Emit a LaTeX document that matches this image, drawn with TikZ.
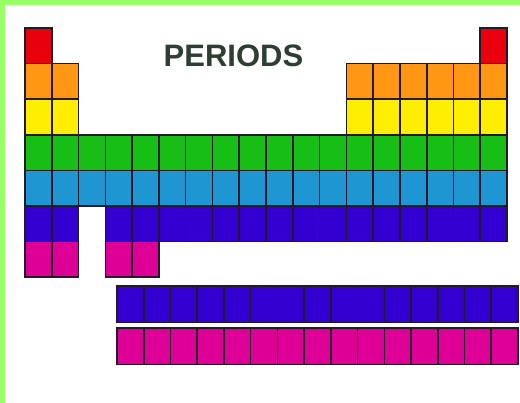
\documentclass[tikz,border=0pt]{standalone}
\usepackage{fontspec}
\setmainfont{Liberation Sans}
\definecolor{FrameGreen}{RGB}{153, 255, 102}
\definecolor{TitleInk}{RGB}{45, 62, 50}
\definecolor{CellEdge}{RGB}{35, 25, 40}
\definecolor{PerRed}{RGB}{232, 0, 12}
\definecolor{PerOrange}{RGB}{255, 150, 20}
\definecolor{PerYellow}{RGB}{255, 238, 0}
\definecolor{PerGreen}{RGB}{22, 190, 22}
\definecolor{PerBlue}{RGB}{30, 150, 210}
\definecolor{PerIndigo}{RGB}{52, 0, 210}
\definecolor{PerMagenta}{RGB}{222, 0, 150}
\usetikzlibrary{positioning}
\tikzset{
  cell/.style={rectangle, draw=CellEdge, fill=#1, line width=1.6pt,
               minimum width=26.78pt, minimum height=35.6pt,
               inner sep=0pt, outer sep=0pt, anchor=north west},
  lcell/.style={cell=#1, minimum width=26.73pt, minimum height=36.5pt},
  heading/.style={font=\fontsize{31}{31}\selectfont\bfseries, text=TitleInk,
                  inner sep=0pt, anchor=base},
}
\begin{document}
\begin{tikzpicture}[x=1pt, y=-1pt]
  \fill[white] (0,0) rectangle (520,403);
  \useasboundingbox (0,0) rectangle (520,403);
  \fill[FrameGreen] (0,0) rectangle (520,5);
  \fill[FrameGreen] (0,0) rectangle (5,403);

  \node[heading] (title) at (233.5,66.5) {PERIODS};

  % main table, one row per period
  \foreach \r/\col/\cols in {1/PerRed/{1,18},
                             2/PerOrange/{1,2,13,14,15,16,17,18},
                             3/PerYellow/{1,2,13,14,15,16,17,18},
                             4/PerGreen/{1,...,18},
                             5/PerBlue/{1,...,18},
                             6/PerIndigo/{1,2,4,5,...,18},
                             7/PerMagenta/{1,2,4,5}}
    \foreach \c in \cols
      \node[cell=\col] (r\r c\c) at ({25+(\c-1)*26.78}, {28+(\r-1)*35.6}) {};

  % the two detached rows
  \foreach \c in {1,...,15} {
    \node[lcell=PerIndigo]  (la\c) at ({117+(\c-1)*26.73}, 286) {};
    \node[lcell=PerMagenta] (ac\c) at ({117+(\c-1)*26.73}, 328) {};
  }
\end{tikzpicture}
\end{document}
